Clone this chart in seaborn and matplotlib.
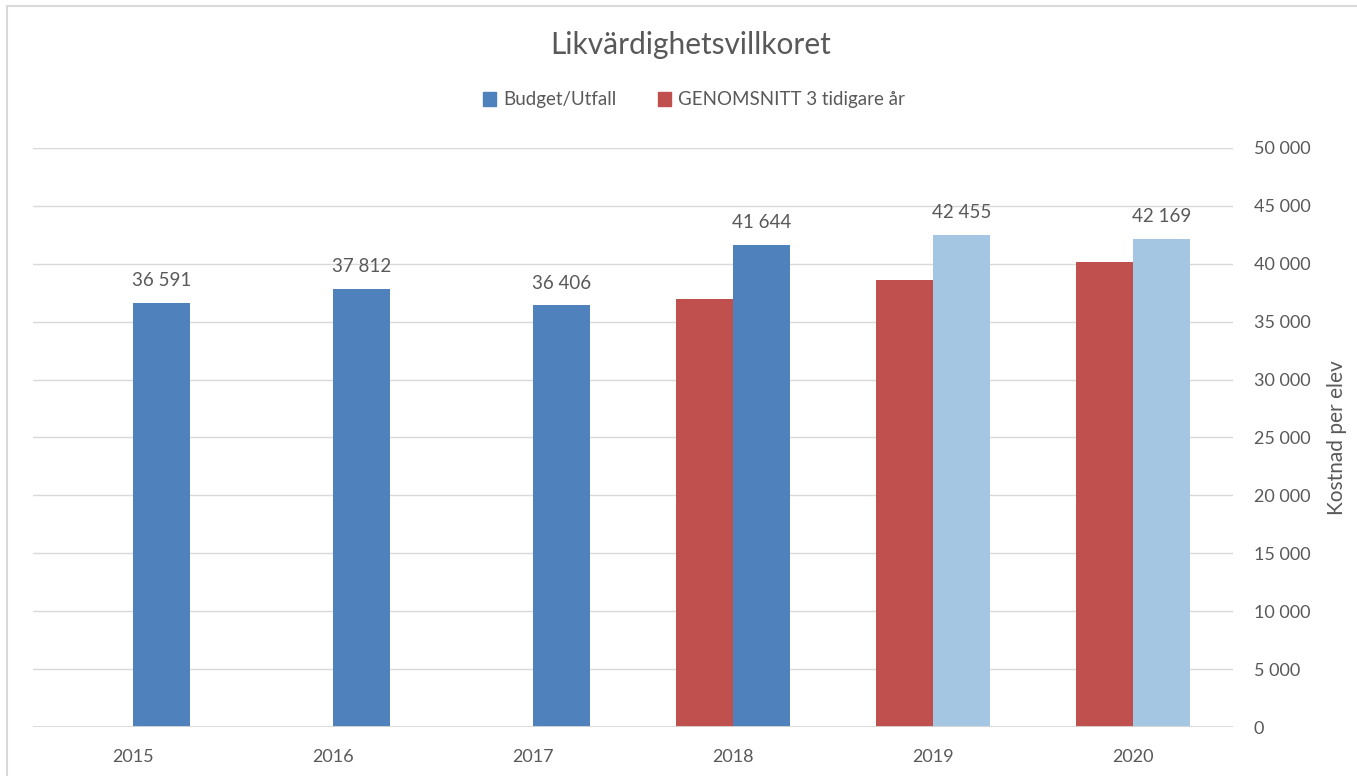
import numpy as np
import pandas as pd
import seaborn as sns
import matplotlib.pyplot as plt
from matplotlib.lines import Line2D
from matplotlib.patches import Patch

# Data ------------------------------------------------------------------------
years = ['2015', '2016', '2017', '2018', '2019', '2020']
budget = [36591, 37812, 36406, 41644, 42455, 42169]
snitt = [np.nan, np.nan, np.nan, 36936, 38621, 40168]
(S_BUD, S_AVG) = ('Budget/Utfall', 'GENOMSNITT 3 tidigare år')

df = pd.DataFrame({
    'year': years * 2,
    'value': snitt + budget,
    'series': [S_AVG] * len(years) + [S_BUD] * len(years),
})
# Colors ----------------------------------------------------------------------
(BLUE, RED, LIGHT) = ('#4F81BD', '#C0504D', '#A5C6E2')
TXT = '#595959'
sns.set_theme(style='white')
plt.rcParams['font.family'] = ['Lato', 'DejaVu Sans']
# Plot ------------------------------------------------------------------------
fig = plt.figure(figsize=(13.57, 7.76), dpi=100)
ax = fig.add_axes([33/1357, 1-727/776, 1200/1357, (727-148)/776])
sns.barplot(
        data=df, x='year', y='value', hue='series',
        hue_order=[S_AVG, S_BUD], palette=[RED, BLUE],
        order=years, width=0.57, saturation=1, ax=ax, legend=False,
        linewidth=0, zorder=3
    )
# budget container = the one with a bar for every year
bud = [c for c in ax.containers if len(c) == len(years)][-1]
for yr, bar in zip(years, bud):
    if yr in ('2019', '2020'):  # forecast years in light blue
        bar.set_facecolor(LIGHT)
ax.bar_label(
        bud, labels=[f'{v:,.0f}'.replace(',', ' ') for v in budget],
        padding=10, fontsize=13.5, color=TXT
    )
# Axes ------------------------------------------------------------------------
ax.set_ylim(0, 50000)
ax.set_xlim(-0.5, len(years) - 0.5)
ax.set_yticks(range(0, 50001, 5000))
ax.yaxis.tick_right()
ax.yaxis.set_label_position('right')
ax.set_yticklabels([f'{v:,}'.replace(',', ' ') for v in range(0, 50001, 5000)])
ax.tick_params(axis='y', length=0, pad=15, labelsize=13, labelcolor=TXT)
ax.tick_params(axis='x', length=0, pad=16, labelsize=13, labelcolor=TXT)
ax.set_xlabel('')
ax.set_ylabel('Kostnad per elev', fontsize=15, color=TXT, labelpad=12)
ax.grid(axis='y', color='#D9D9D9', linewidth=1, zorder=0)
for s in ax.spines.values():
    s.set_visible(False)
ax.axhline(0, color='#D9D9D9', linewidth=1.3, zorder=4)
# Title / legend --------------------------------------------------------------
fig.text(691/1357, 1-45/776, 'Likvärdighetsvillkoret', ha='center',
         va='center', fontsize=21.5, color=TXT)
handles = [Patch(color=BLUE, label=S_BUD), Patch(color=RED, label=S_AVG)]
fig.legend(handles=handles, loc='center',
           bbox_to_anchor=(694/1357, 1-100/776),
           ncol=2, frameon=False, fontsize=13.5, labelcolor=TXT,
           handlelength=0.7, handleheight=0.7, handletextpad=0.4,
           columnspacing=2.2)
# Chart border ----------------------------------------------------------------
(bx, by) = (7/1357, 1-6/776)
fig.add_artist(Line2D([bx, 1], [by, by], color='#D9D9D9', lw=1.5,
                      transform=fig.transFigure))
fig.add_artist(Line2D([bx, bx], [0, by], color='#D9D9D9', lw=1.5,
                      transform=fig.transFigure))
# Save ------------------------------------------------------------------------
fig.savefig('out.png', dpi=100)
